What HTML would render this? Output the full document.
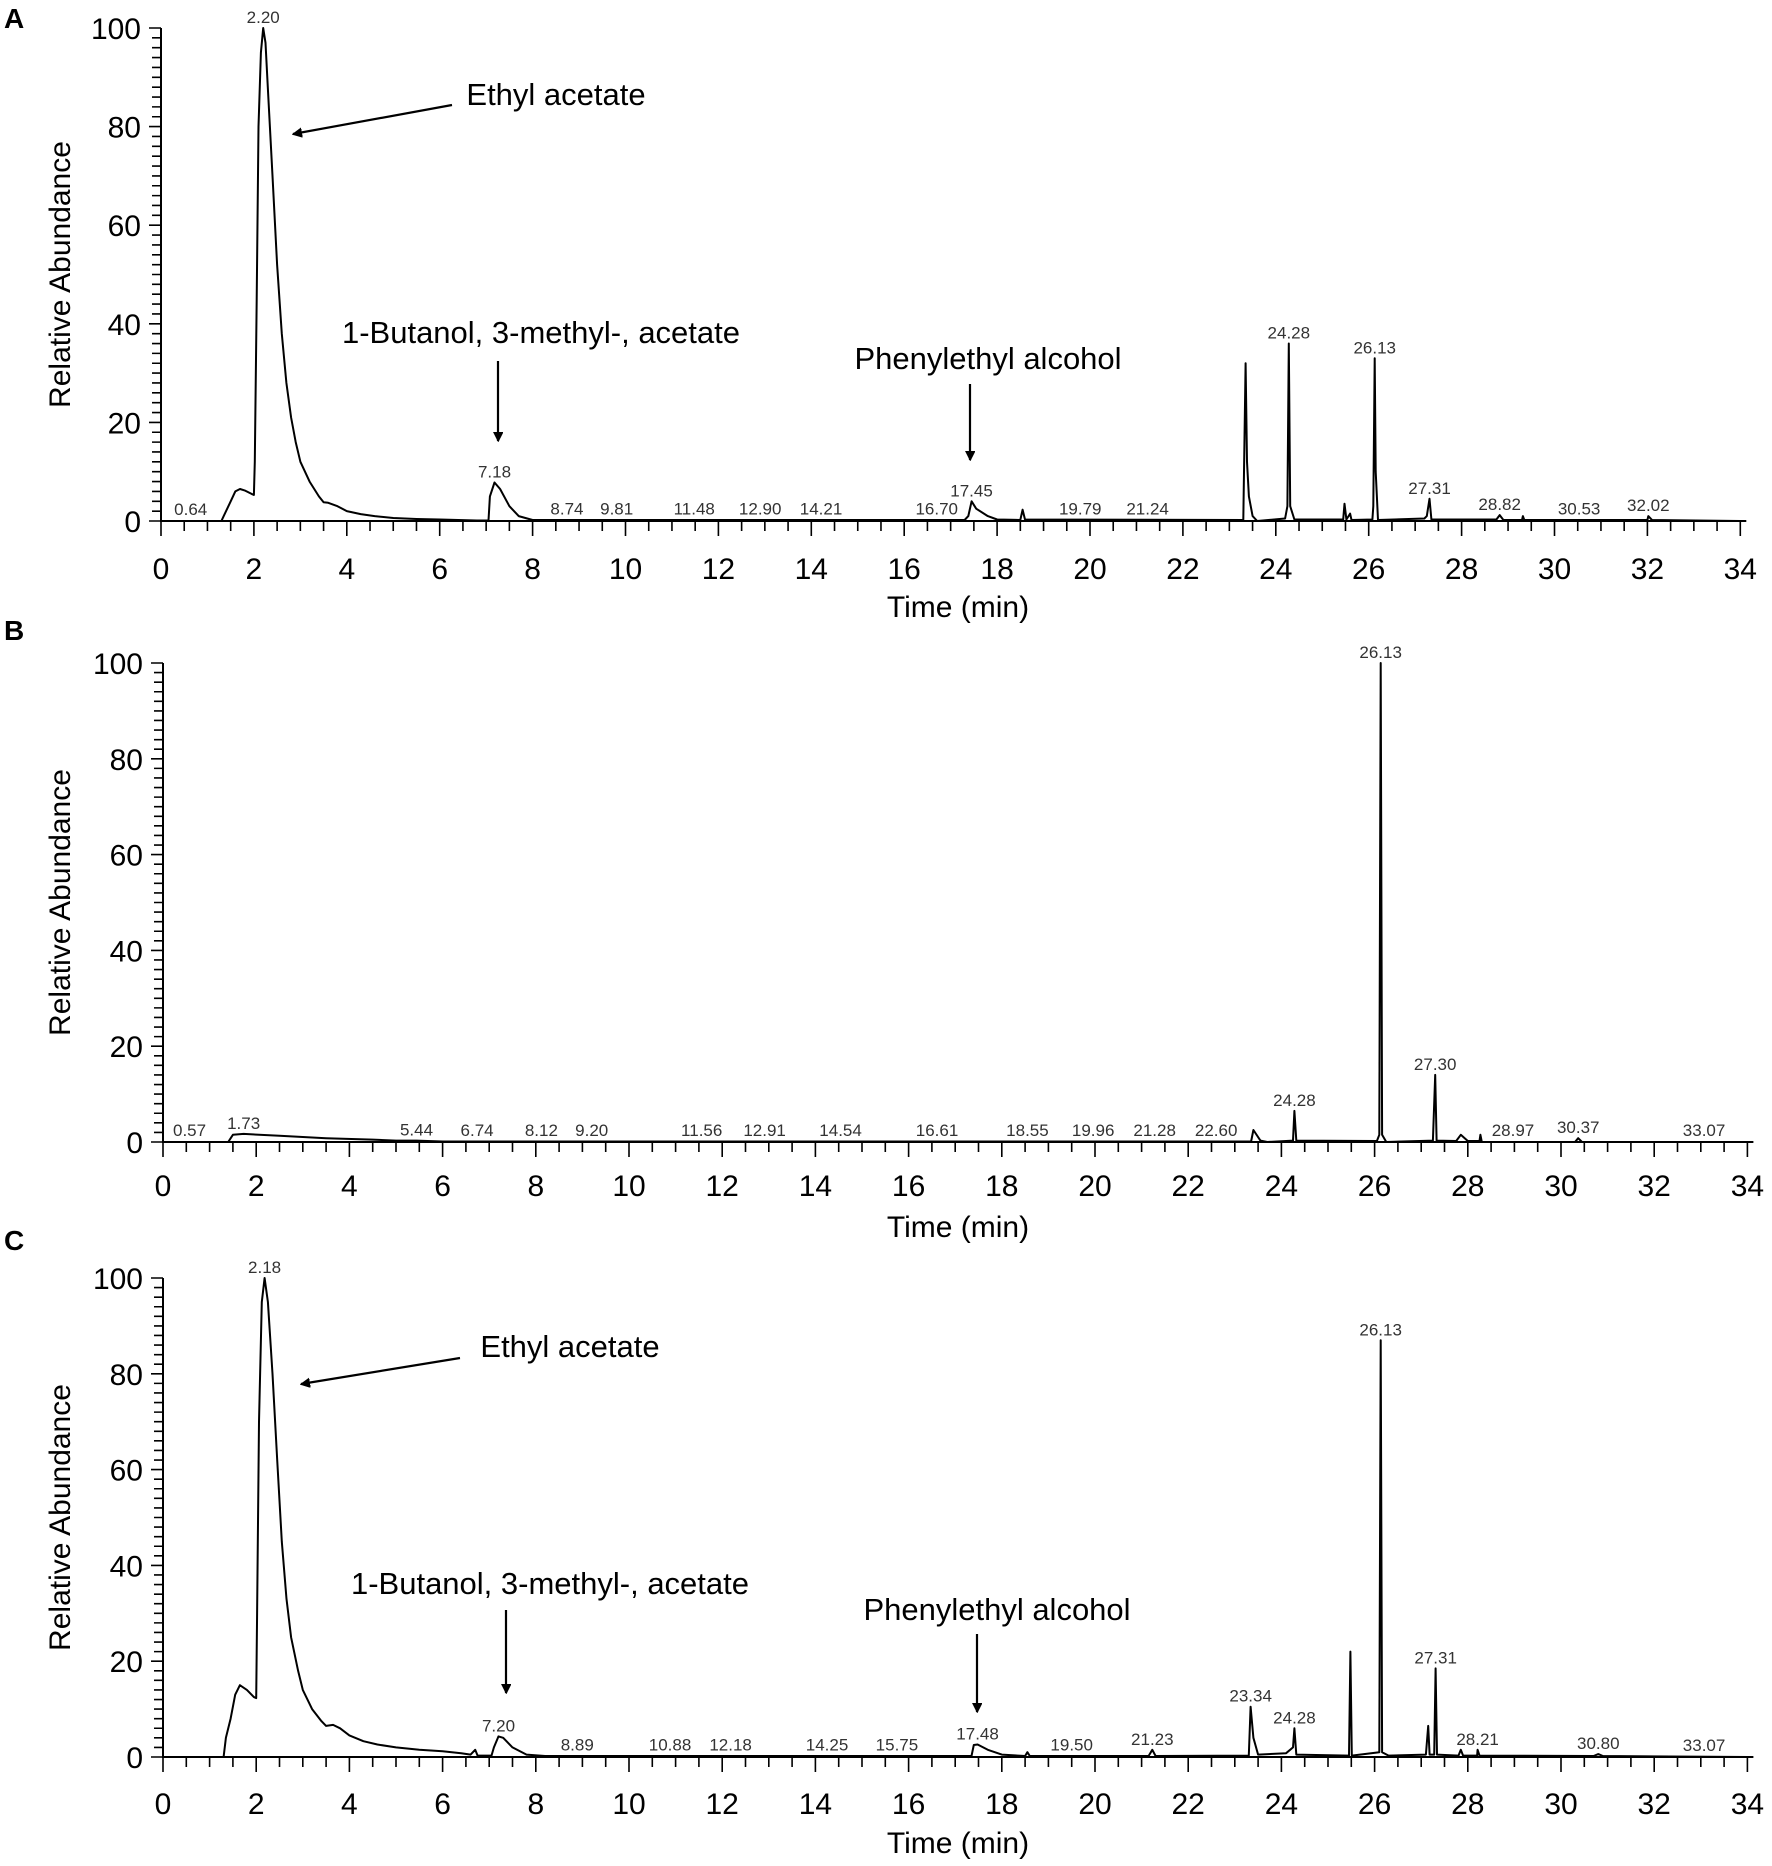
<!DOCTYPE html>
<html><head><meta charset="utf-8"><style>
html,body{margin:0;padding:0;background:#fff;}
svg{display:block;font-family:"Liberation Sans",Arial,sans-serif;}
</style></head><body>
<svg id="chart" width="1772" height="1866" viewBox="0 0 1772 1866" xmlns="http://www.w3.org/2000/svg">
<defs><marker id="ah" markerWidth="10" markerHeight="10" refX="9" refY="5" orient="auto" markerUnits="userSpaceOnUse"><path d="M0,0 L10,5 L0,10 z" fill="#000" transform="scale(1.9) translate(-4.5,-2.5)"/></marker></defs>
</svg>
<script>
// ---------- data ----------
const xTicks = [0,2,4,6,8,10,12,14,16,18,20,22,24,26,28,30,32,34];
const yTicks = [0,20,40,60,80,100];
const traceA_t = [0,1.3,1.35,1.5,1.6,1.7,1.8,1.95,2.0,2.02,2.06,2.1,2.15,2.2,2.25,2.3,2.4,2.5,2.6,2.7,2.8,2.9,3.0,3.2,3.4,3.5,3.6,3.8,4.0,4.3,4.6,5,5.5,6,6.4,6.8,7.05,7.08,7.18,7.3,7.5,7.7,8,17.3,17.38,17.45,17.55,17.8,18,18.5,18.55,18.6,23.3,23.35,23.38,23.42,23.5,23.6,24.2,24.25,24.28,24.31,24.4,25.45,25.48,25.52,25.6,25.63,26.08,26.1,26.13,26.15,26.2,27.2,27.25,27.31,27.35,28.75,28.82,28.9,29.3,29.32,29.35,32,32.02,32.1,34];
const traceA_v = [0,0,1,4,6,6.5,6.2,5.5,5.3,12,45,80,95,100,97,88,70,52,38,28,21,16,12,8,5,3.8,3.7,3,2,1.4,1,0.6,0.4,0.3,0.2,0.1,0.1,5,7.8,6.5,3,1,0.2,0.2,1,4,2.5,1,0.3,0.2,2.3,0.3,0.2,32,12,5,1,0,0.5,3,36,3,0.3,0.3,3.5,0.3,1.5,0.2,0.3,3,33,10,0.2,0.5,1,4.5,0.3,0.3,1.2,0.2,0.2,1,0.2,0.2,1,0.2,0];
const labelsA_t = [0.64,2.20,7.18,8.74,9.81,11.48,12.90,14.21,16.70,17.45,19.79,21.24,24.28,26.13,27.31,28.82,30.53,32.02];
const labelsA_h = [0.2,100,7.8,0.3,0.3,0.3,0.3,0.3,0.3,4,0.3,0.3,36,33,4.5,1.2,0.3,1];
const traceB_t = [0,1.4,1.5,1.73,2.5,3.5,4.5,5.0,5.44,6,23.35,23.4,23.55,23.7,24.25,24.28,24.32,26.05,26.1,26.13,26.16,26.25,27.25,27.3,27.33,27.75,27.85,28,28.25,28.27,28.3,30.3,30.37,30.45,34];
const traceB_v = [0,0,1.5,1.7,1.3,0.8,0.5,0.3,0.3,0.1,0.1,2.5,0.3,0,0.3,6.5,0.3,0.2,1.5,100,1.5,0,0.3,14,0.3,0.2,1.5,0.2,0.2,1.5,0,0,0.8,0,0];
const labelsB_t = [0.57,1.73,5.44,6.74,8.12,9.20,11.56,12.91,14.54,16.61,18.55,19.96,21.28,22.60,24.28,26.13,27.30,28.97,30.37,33.07];
const labelsB_h = [0.2,1.7,0.3,0.2,0.2,0.2,0.2,0.2,0.2,0.2,0.2,0.2,0.2,0.2,6.5,100,14,0.2,0.8,0.2];
const traceC_t = [0,1.3,1.35,1.45,1.55,1.65,1.8,1.95,2.0,2.02,2.06,2.12,2.18,2.25,2.35,2.45,2.55,2.65,2.75,2.9,3.0,3.2,3.4,3.5,3.65,3.8,4.0,4.3,4.6,5,5.5,6,6.4,6.6,6.7,6.75,7.05,7.1,7.2,7.3,7.5,7.8,8.2,17.35,17.4,17.48,17.7,18,18.5,18.55,18.6,21.15,21.23,21.3,23.3,23.34,23.4,23.5,24.1,24.25,24.28,24.32,25.45,25.48,25.51,26.1,26.13,26.16,26.3,27.1,27.15,27.18,27.28,27.31,27.34,27.8,27.85,27.9,28.2,28.21,28.25,30.7,30.8,30.9,34];
const traceC_v = [0,0,4,8,13,15,14,12.5,12.3,30,70,95,100,95,80,62,45,33,25,18,14,10,7.5,6.5,6.7,6,4.5,3.3,2.6,2,1.5,1.2,0.8,0.5,1.5,0.3,0.3,2,4.3,4,2,0.5,0.2,0.2,2.5,2.6,1.5,0.5,0.2,1,0.2,0.2,1.5,0.2,0.3,10.5,4,0.5,0.8,2,6,0.5,0.3,22,0.3,1,87,1,0.3,0.5,6.5,0.5,0.5,18.5,0.5,0.3,1.5,0.3,0.3,1.5,0.3,0.2,0.6,0.2,0];
const labelsC_t = [2.18,7.20,8.89,10.88,12.18,14.25,15.75,17.48,19.50,21.23,23.34,24.28,26.13,27.31,28.21,30.80,33.07];
const labelsC_h = [100,4.3,0.3,0.3,0.3,0.3,0.3,2.6,0.3,1.5,10.5,6,87,18.5,1.5,0.6,0.2];

// ---------- drawing ----------
const NS = "http://www.w3.org/2000/svg";
const svg = document.getElementById('chart');
function mk(tag, attrs, parent){
  const e = document.createElementNS(NS, tag);
  for (const k in attrs) e.setAttribute(k, attrs[k]);
  (parent||svg).appendChild(e);
  return e;
}
const panels = [
  {id:'a', letter:'A', letterY:28, x0:161, sx:46.45, y0:521, y100:28, tickLabY:579, titleY:617, t:traceA_t, v:traceA_v, lt:labelsA_t, lh:labelsA_h},
  {id:'b', letter:'B', letterY:640, x0:163, sx:46.6, y0:1142, y100:663, tickLabY:1196, titleY:1237, t:traceB_t, v:traceB_v, lt:labelsB_t, lh:labelsB_h},
  {id:'c', letter:'C', letterY:1250, x0:163, sx:46.6, y0:1757, y100:1278, tickLabY:1814, titleY:1853, t:traceC_t, v:traceC_v, lt:labelsC_t, lh:labelsC_h}
];
panels.forEach(p=>{
  const X = t => p.x0 + t*p.sx;
  const Y = v => p.y0 - v*(p.y0-p.y100)/100;
  const g = mk('g',{});
  
  
  const L = mk('text',{x:4,y:p.letterY,'font-size':28,'font-weight':'bold',fill:'#000'},g);
  L.textContent = p.letter;
  
  
  const ax = mk('path',{d:`M${X(0)},${Y(100)} V${p.y0} H${X(34)+6}`,stroke:'#000','stroke-width':2,fill:'none'},g);
  
  
  let d='';
  for(let v=0; v<=100; v+=2){ const len = v%20===0?12:9; d+=`M${X(0)-len},${Y(v)} H${X(0)} `; }
  for(let t=0; t<=34.001; t+=0.5){ const len = Math.abs(t-Math.round(t/2)*2)<1e-6?15:10; d+=`M${X(t)},${p.y0} V${p.y0+len} `; }
  const tk = mk('path',{d:d,stroke:'#000','stroke-width':1.6,fill:'none'},g);
  
  
  yTicks.forEach(v=>{
    const e = mk('text',{x:X(0)-20,y:Y(v)+11,'font-size':30,'text-anchor':'end',fill:'#000'},g);
    e.textContent = v;
    
    
  });
  xTicks.forEach(t=>{
    const e = mk('text',{x:X(t),y:p.tickLabY,'font-size':30,'text-anchor':'middle',fill:'#000'},g);
    e.textContent = t;
    
    
  });
  const xt = mk('text',{x:958,y:p.titleY,'font-size':30,'text-anchor':'middle',fill:'#000'},g);
  xt.textContent = 'Time (min)';
  
  
  const cy = (Y(0)+Y(100))/2;
  const yt = mk('text',{x:0,y:0,'font-size':30,'text-anchor':'middle',fill:'#000',transform:`translate(70,${cy}) rotate(-90)`},g);
  yt.textContent = 'Relative Abundance';
  
  
  const pts = p.t.map((t,i)=>X(t).toFixed(1)+','+Y(p.v[i]).toFixed(1)).join(' ');
  const tr = mk('polyline',{points:pts,stroke:'#000','stroke-width':2,fill:'none','stroke-linejoin':'round'},g);
  
  
  p.lt.forEach((t,i)=>{
    const e = mk('text',{x:X(t),y:Y(p.lh[i])-5,'font-size':17,'text-anchor':'middle',fill:'#333'},g);
    e.textContent = t.toFixed(2);
    
    
  });
});
function note(txt,x,y,name){
  const e = mk('text',{x:x,y:y,'font-size':31,'text-anchor':'middle',fill:'#000'});
  e.textContent = txt;
  
  
}
function arrow(x1,y1,x2,y2,name){
  const e = mk('line',{x1:x1,y1:y1,x2:x2,y2:y2,stroke:'#000','stroke-width':2.2,'marker-end':'url(#ah)'});
  
  
}
note('Ethyl acetate',556,105,'ethyl-acetate-label-a');
arrow(452,105,293,134,'ethyl-acetate-arrow-a');
note('1-Butanol, 3-methyl-, acetate',541,343,'butanol-label-a');
arrow(498,361,498,441,'butanol-arrow-a');
note('Phenylethyl alcohol',988,369,'phenylethyl-label-a');
arrow(970,384,970,460,'phenylethyl-arrow-a');
note('Ethyl acetate',570,1357,'ethyl-acetate-label-c');
arrow(460,1358,301,1384,'ethyl-acetate-arrow-c');
note('1-Butanol, 3-methyl-, acetate',550,1594,'butanol-label-c');
arrow(506,1610,506,1693,'butanol-arrow-c');
note('Phenylethyl alcohol',997,1620,'phenylethyl-label-c');
arrow(977,1634,977,1712,'phenylethyl-arrow-c');
</script>
</body></html>
